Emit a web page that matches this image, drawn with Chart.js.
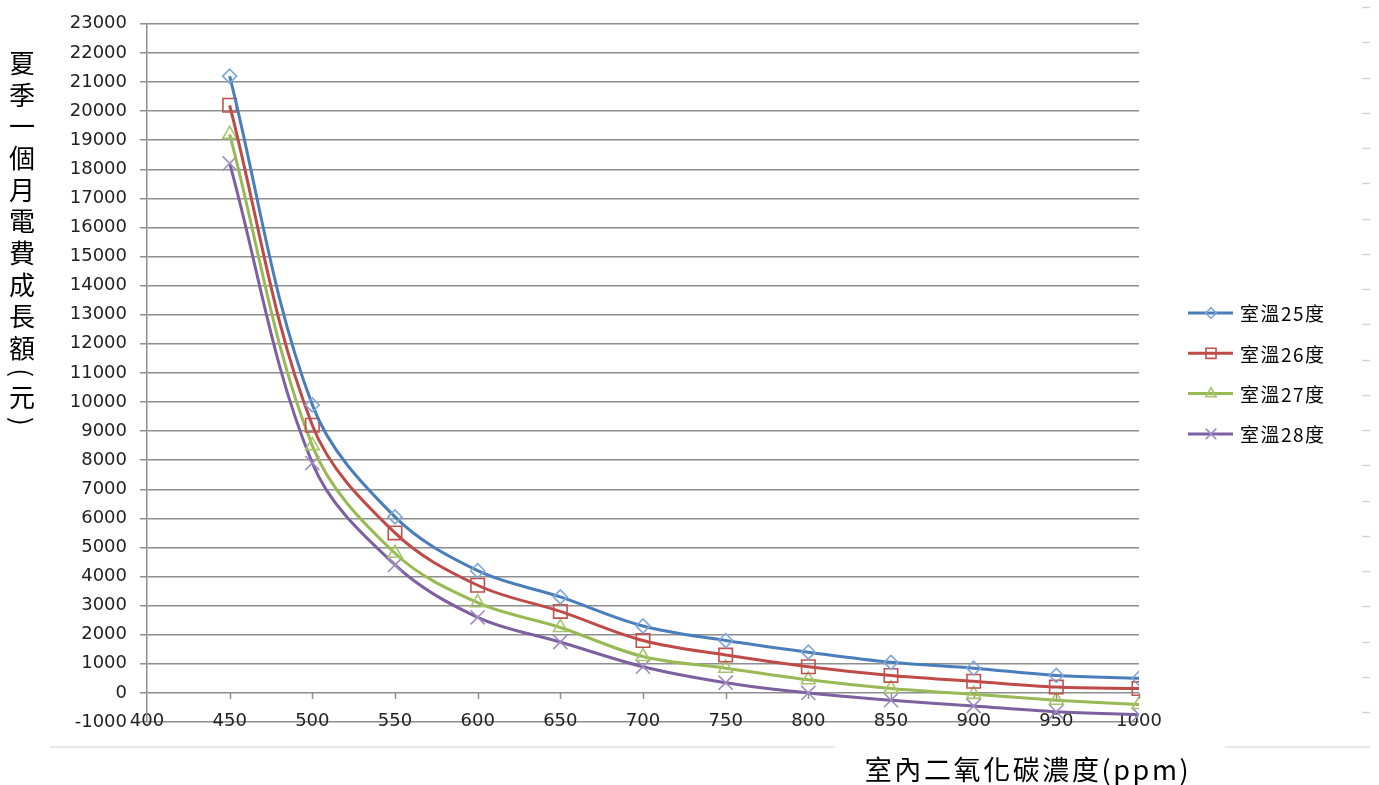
<!DOCTYPE html>
<html>
<head>
<meta charset="utf-8">
<title>夏季一個月電費成長額</title>
<script src="https://cdn.jsdelivr.net/npm/chart.js"></script>
<style>
  html, body { margin: 0; padding: 0; background: #fff; }
  #wrap { width: 1379px; height: 785px; }
</style>
</head>
<body>
<div id="wrap"><canvas id="myChart" width="1379" height="785"></canvas></div>
<script>
// indoor CO2 (ppm) on x, monthly summer electricity increase (NTD) on y
var co2Levels = [450, 500, 550, 600, 650, 700, 750, 800, 850, 900, 950, 1000];
var cost25 = [21200, 9900, 6050, 4200, 3300, 2300, 1800, 1400, 1050, 850, 600, 500];
var cost26 = [20200, 9200, 5500, 3700, 2800, 1800, 1300, 900, 600, 400, 200, 150];
var cost27 = [19200, 8500, 4800, 3100, 2250, 1250, 850, 450, 150, -50, -250, -400];
var cost28 = [18200, 7900, 4400, 2600, 1750, 900, 350, 0, -250, -450, -650, -750];
var seriesNames = ["室溫25度", "室溫26度", "室溫27度", "室溫28度"];

var xMin = 400, xMax = 1000, xStep = 50;
var yMin = -1000, yMax = 23000, yStep = 1000;

var yTitle = "夏季一個月電費成長額(元)";
var xTitle = "室內二氧化碳濃度(ppm)";

var tickFont = { family: "DejaVu Sans", size: 18 };
var cjkFont = '"Noto Sans CJK TC", "Noto Sans CJK SC", sans-serif';
var gridColor = "#8e8e8e";

function toPoints(values) {
  return values.map(function (v, i) { return { x: co2Levels[i], y: v }; });
}

// plain integers, no thousands separator
function plainTick(value) { return String(value); }

var styles = [
  { line: "#4a7ebb", marker: "#7ea6d8", shape: "rectRot", r: 7 },
  { line: "#be4b48", marker: "#c0504d", shape: "rect", r: 9.5 },
  { line: "#98b954", marker: "#a6c56a", shape: "triangle", r: 8 },
  { line: "#7d60a0", marker: "#a08cc2", shape: "crossRot", r: 10 }
];
var allSeries = [cost25, cost26, cost27, cost28];

var datasets = allSeries.map(function (vals, i) {
  var s = styles[i];
  return {
    label: seriesNames[i],
    data: toPoints(vals),
    borderColor: s.line,
    borderWidth: 3,
    tension: 0.35,
    pointStyle: s.shape,
    pointRadius: s.r,
    pointBorderColor: s.marker,
    pointBackgroundColor: "rgba(255,255,255,0)",
    pointBorderWidth: 1.6
  };
});

// axis extras, titles and the side legend
var decorations = {
  id: "decorations",
  beforeDatasetsDraw: function (chart) {
    var ctx = chart.ctx, xs = chart.scales.x, ys = chart.scales.y;
    var y0 = ys.getPixelForValue(0);
    ctx.save();
    ctx.strokeStyle = gridColor;
    ctx.lineWidth = 1.5;
    xs.ticks.forEach(function (t) {
      if (t.value === xs.min) return;
      var px = Math.round(xs.getPixelForValue(t.value)) + 0.5;
      ctx.beginPath();
      ctx.moveTo(px, y0);
      ctx.lineTo(px, y0 + 6);
      ctx.stroke();
    });
    ctx.restore();
  },
  afterDraw: function (chart) {
    var ctx = chart.ctx;
    ctx.save();

    // faint frame leftovers
    ctx.strokeStyle = "#e8e8e8";
    ctx.lineWidth = 2;
    ctx.beginPath();
    ctx.moveTo(50, 747); ctx.lineTo(835, 747);
    ctx.moveTo(1225, 747); ctx.lineTo(1370, 747);
    ctx.stroke();
    ctx.strokeStyle = "#d4d4d4";
    ctx.lineWidth = 1.5;
    for (var k = 0; k < 21; k++) {
      var dy = Math.round(7 + k * 35.25) + 0.5;
      ctx.beginPath();
      ctx.moveTo(1362, dy); ctx.lineTo(1370, dy);
      ctx.stroke();
    }

    // vertical y title, one glyph per row
    ctx.fillStyle = "#000";
    ctx.font = "26px " + cjkFont;
    ctx.textAlign = "center";
    ctx.textBaseline = "middle";
    var chars = Array.from(yTitle);
    var y = 63, prevAdv = 0;
    chars.forEach(function (ch, i) {
      var isParen = ch === "(" || ch === ")";
      var adv = isParen ? 17 : 31.7;
      if (i > 0) y += (prevAdv + adv) / 2;
      prevAdv = adv;
      if (isParen) {
        ctx.save();
        ctx.translate(22, y);
        ctx.rotate(Math.PI / 2);
        ctx.fillText(ch, 0, 0);
        ctx.restore();
      } else {
        ctx.fillText(ch, 22, y);
      }
    });

    // x title
    ctx.font = "27px " + cjkFont;
    ctx.letterSpacing = "2.6px";
    ctx.textAlign = "center";
    ctx.fillText(xTitle, 1028, 770);

    // legend: line sample with marker, then label
    ctx.font = "19px " + cjkFont;
    ctx.letterSpacing = "1.5px";
    ctx.textAlign = "left";
    chart.data.datasets.forEach(function (ds, i) {
      var ly = 313 + i * 40.3;
      ctx.strokeStyle = ds.borderColor;
      ctx.lineWidth = 3;
      ctx.beginPath();
      ctx.moveTo(1188, ly); ctx.lineTo(1233, ly);
      ctx.stroke();
      ctx.strokeStyle = ds.pointBorderColor;
      ctx.fillStyle = "rgba(255,255,255,0)";
      ctx.lineWidth = 1.6;
      Chart.helpers.drawPoint(ctx, {
        pointStyle: ds.pointStyle, radius: ds.pointRadius * 0.75,
        rotation: 0, borderWidth: 1.6
      }, 1211, ly);
      ctx.fillStyle = "#000";
      ctx.fillText(ds.label, 1240, ly + 1);
    });

    ctx.restore();
  }
};

new Chart("myChart", {
  type: "line",
  data: { datasets: datasets },
  options: {
    responsive: false,
    animation: false,
    devicePixelRatio: 1,
    layout: { padding: { left: 0, right: 240, top: 18, bottom: 0 } },
    plugins: {
      legend: { display: false },
      tooltip: { enabled: false }
    },
    scales: {
      x: {
        type: "linear",
        min: xMin,
        max: xMax,
        // mirrored so the labels can sit on the bottom gridline without clipping
        ticks: { stepSize: xStep, mirror: true, padding: -10, font: tickFont, color: "#222",
                 maxRotation: 0, autoSkip: false, callback: plainTick },
        grid: { display: false, drawTicks: false },
        border: { display: false },
        afterFit: function (s) { s.height = 63; }
      },
      y: {
        min: yMin,
        max: yMax,
        ticks: { stepSize: yStep, padding: 13, font: tickFont, color: "#222", callback: plainTick },
        grid: { color: gridColor, lineWidth: 1.5, tickLength: 7 },
        border: { color: gridColor, width: 1.5 },
        afterFit: function (s) { s.width = 147; }
      }
    }
  },
  plugins: [decorations]
});
</script>
</body>
</html>
